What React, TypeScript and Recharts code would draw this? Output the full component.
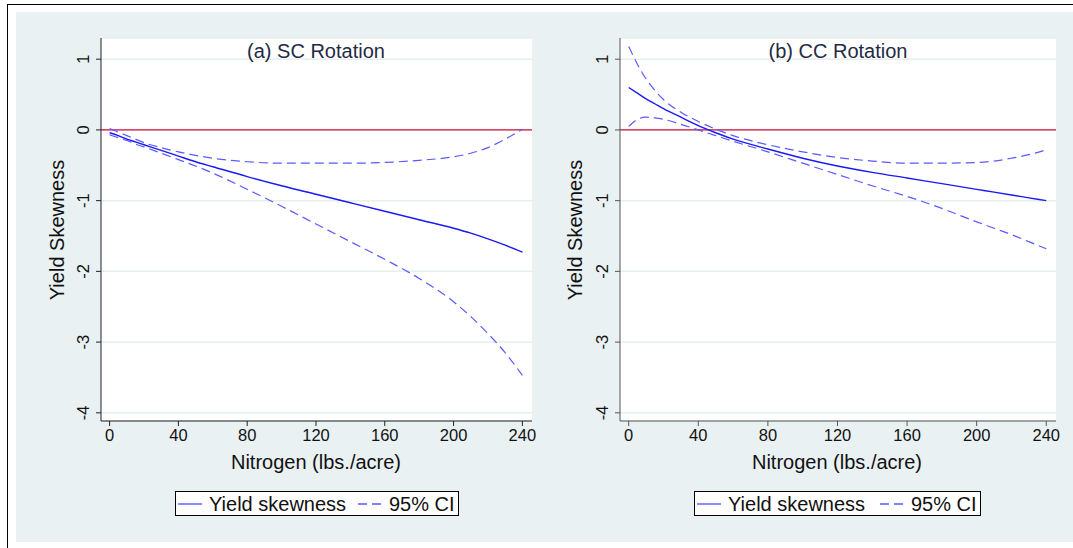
import React from "react";
import { LineChart, Line, XAxis, YAxis, CartesianGrid, ReferenceLine } from "recharts";

const nitrogen = [0, 5, 10, 15, 20, 30, 40, 50, 60, 80, 100, 120, 140, 160, 180, 200, 210, 220, 230, 240];

const scEstimate = [-0.04, -0.08, -0.13, -0.17, -0.21, -0.29, -0.37, -0.45, -0.52, -0.66, -0.79, -0.91, -1.03, -1.15, -1.27, -1.39, -1.46, -1.54, -1.63, -1.73];
const scUpper = [0.02, -0.03, -0.08, -0.13, -0.18, -0.25, -0.31, -0.36, -0.40, -0.45, -0.47, -0.47, -0.47, -0.46, -0.43, -0.38, -0.33, -0.25, -0.13, 0.01];
const scLower = [-0.07, -0.11, -0.15, -0.20, -0.24, -0.33, -0.42, -0.51, -0.61, -0.84, -1.08, -1.33, -1.58, -1.83, -2.10, -2.43, -2.64, -2.88, -3.15, -3.47];

const ccEstimate = [0.60, 0.52, 0.44, 0.37, 0.30, 0.18, 0.06, -0.04, -0.13, -0.27, -0.40, -0.51, -0.60, -0.68, -0.76, -0.84, -0.88, -0.92, -0.96, -1.00];
const ccUpper = [1.18, 0.93, 0.72, 0.56, 0.43, 0.25, 0.12, 0.01, -0.08, -0.21, -0.31, -0.39, -0.44, -0.47, -0.47, -0.46, -0.44, -0.40, -0.35, -0.28];
const ccLower = [0.05, 0.15, 0.18, 0.17, 0.15, 0.08, 0.0, -0.08, -0.16, -0.31, -0.47, -0.63, -0.79, -0.94, -1.11, -1.30, -1.39, -1.48, -1.58, -1.68];

const xTicks = [0, 40, 80, 120, 160, 200, 240];
const yTicks = [-4, -3, -2, -1, 0, 1];
const panelTitles = ["(a) SC Rotation", "(b) CC Rotation"];
const xAxisTitle = "Nitrogen (lbs./acre)";
const yAxisTitle = "Yield Skewness";
const legendLabels = ["Yield skewness", "95% CI"];

const FONT = "'Liberation Sans', Arial, Helvetica, sans-serif";
const SOLID = "#1a1af5";
const DASH = "#5a5aff";
const BG = "#e9f1f3";

const build = (est: number[], up: number[], lo: number[]) =>
  nitrogen.map((n, i) => ({ n, est: est[i], up: up[i], lo: lo[i] }));

const scData = build(scEstimate, scUpper, scLower);
const ccData = build(ccEstimate, ccUpper, ccLower);

const YTick = (props: any) => {
  const { x, y, payload } = props;
  return (
    <g transform={`translate(${x - 5},${y})`}>
      <text transform="rotate(-90)" textAnchor="middle" x={0} y={0} fontSize={16.5} fontFamily={FONT} fill="#111">
        {payload.value}
      </text>
    </g>
  );
};

const XTick = (props: any) => {
  const { x, y, payload } = props;
  return (
    <text x={x} y={y + 13} textAnchor="middle" fontSize={16.5} fontFamily={FONT} fill="#111">
      {payload.value}
    </text>
  );
};

const Panel = ({ data, left, width, marginLeft, marginRight, axisColor }: any) => (
  <div style={{ position: "absolute", left, top: 0 }}>
    <LineChart
      width={width}
      height={548}
      data={data}
      margin={{ top: 38, right: marginRight, bottom: 97, left: marginLeft }}
    >
      <CartesianGrid horizontal vertical={false} stroke="#e6eeee" strokeWidth={1.5} fill="#ffffff" fillOpacity={1} />
      <XAxis
        dataKey="n"
        type="number"
        domain={[-5, 245.6]}
        ticks={xTicks}
        height={30}
        tickSize={5}
        tick={<XTick />}
        stroke={axisColor}
        tickLine={{ stroke: axisColor }}
        allowDataOverflow
      />
      <YAxis
        type="number"
        domain={[-4.116, 1.3]}
        ticks={yTicks}
        width={40}
        tickSize={5}
        tickMargin={2}
        tick={<YTick />}
        stroke={axisColor}
        tickLine={{ stroke: axisColor }}
        allowDataOverflow
      />
      <ReferenceLine y={0} stroke="#d0103a" strokeWidth={1.3} />
      <Line type="monotone" dataKey="up" stroke={DASH} strokeWidth={1.2} strokeDasharray="9 5" dot={false} isAnimationActive={false} />
      <Line type="monotone" dataKey="lo" stroke={DASH} strokeWidth={1.2} strokeDasharray="9 5" dot={false} isAnimationActive={false} />
      <Line type="monotone" dataKey="est" stroke={SOLID} strokeWidth={1.4} dot={false} isAnimationActive={false} />
    </LineChart>
  </div>
);

const textStyle = (left: number, top: number, size: number, color = "#111", rotate = 0): React.CSSProperties => ({
  position: "absolute",
  left,
  top,
  transform: `translate(-50%, -50%)${rotate ? ` rotate(${rotate}deg)` : ""}`,
  fontFamily: FONT,
  fontSize: size,
  color,
  whiteSpace: "nowrap",
  lineHeight: 1,
});

const LegendBox = ({ left, width, dashLeft, textLeft2 }: any) => (
  <div
    style={{
      position: "absolute",
      left,
      top: 491,
      width,
      height: 25,
      boxSizing: "border-box",
      border: "1px solid #000",
      background: "#fff",
      fontFamily: FONT,
      fontSize: 20,
      color: "#111",
    }}
  >
    <svg style={{ position: "absolute", left: 2, top: 10 }} width={24} height={4}>
      <line x1={0} y1={2} x2={24} y2={2} stroke={DASH} strokeWidth={1.4} />
    </svg>
    <div style={{ position: "absolute", left: 33, top: 1, lineHeight: "22px" }}>{legendLabels[0]}</div>
    <svg style={{ position: "absolute", left: dashLeft, top: 10 }} width={24} height={4}>
      <line x1={0} y1={2} x2={24} y2={2} stroke={DASH} strokeWidth={1.4} strokeDasharray="9 5" />
    </svg>
    <div style={{ position: "absolute", left: textLeft2, top: 1, lineHeight: "22px" }}>{legendLabels[1]}</div>
  </div>
);

export default function App() {
  return (
    <div style={{ position: "absolute", left: 0, top: 0, width: 1073, height: 548, background: "#fff", overflow: "hidden" }}>
      <div style={{ position: "absolute", left: 7, top: 4, width: 1066, height: 1, background: "#000" }} />
      <div style={{ position: "absolute", left: 7, top: 4, width: 1, height: 544, background: "#000" }} />
      <div style={{ position: "absolute", left: 16, top: 12, width: 1057, height: 530, background: BG }} />

      <Panel data={scData} left={0} width={545} marginLeft={61} marginRight={13} axisColor="#222" />
      <Panel data={ccData} left={540} width={533} marginLeft={40} marginRight={17} axisColor="#555" />

      <div style={textStyle(316, 51, 20, "#1f2a44")}>{panelTitles[0]}</div>
      <div style={textStyle(838, 51, 20, "#1f2a44")}>{panelTitles[1]}</div>

      <div style={textStyle(316, 462, 20)}>{xAxisTitle}</div>
      <div style={textStyle(837, 462, 20)}>{xAxisTitle}</div>

      <div style={textStyle(57, 230, 20, "#111", -90)}>{yAxisTitle}</div>
      <div style={textStyle(575, 230, 20, "#111", -90)}>{yAxisTitle}</div>

      <LegendBox left={175} width={284} dashLeft={182} textLeft2={213} />
      <LegendBox left={694} width={287} dashLeft={185} textLeft2={216} />
    </div>
  );
}
